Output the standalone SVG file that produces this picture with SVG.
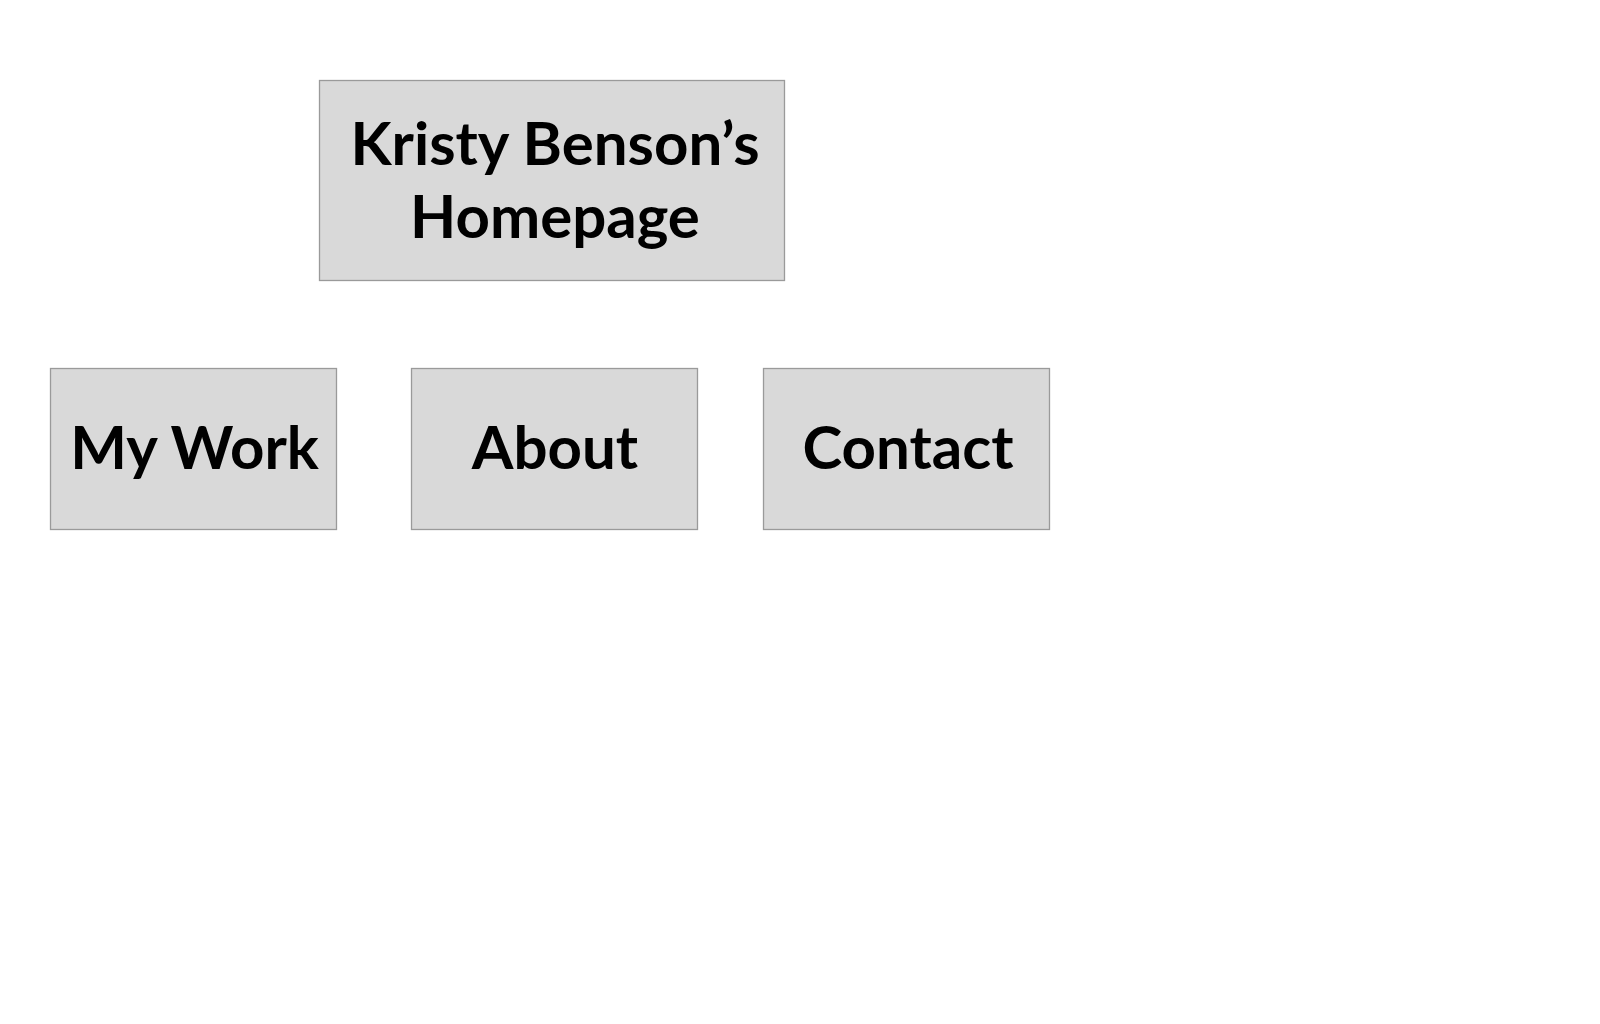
<svg xmlns="http://www.w3.org/2000/svg" width="1600" height="1024" viewBox="0 0 1600 1024">
<style>
.box{fill:#d9d9d9;stroke:#9a9a9a;stroke-width:1.3}
.lbl{font-family:Lato,"Liberation Sans",sans-serif;font-weight:700;font-size:60px;fill:#000;text-anchor:middle}
</style>
<rect width="1600" height="1024" fill="#fff"/>
<g id="connectors"></g>
<g id="home">
<rect class="box" x="319.5" y="80.5" width="465" height="200"/>
<text class="lbl" x="555" y="165">Kristy Benson’s</text>
<text class="lbl" x="555" y="238">Homepage</text>
</g>
<g id="mywork">
<rect class="box" x="50.5" y="368.5" width="286" height="161"/>
<text class="lbl" x="194.5" y="469">My Work</text>
</g>
<g id="about">
<rect class="box" x="411.5" y="368.5" width="286" height="161"/>
<text class="lbl" x="555" y="469">About</text>
</g>
<g id="contact">
<rect class="box" x="763.5" y="368.5" width="286" height="161"/>
<text class="lbl" x="908" y="469">Contact</text>
</g>
</svg>
